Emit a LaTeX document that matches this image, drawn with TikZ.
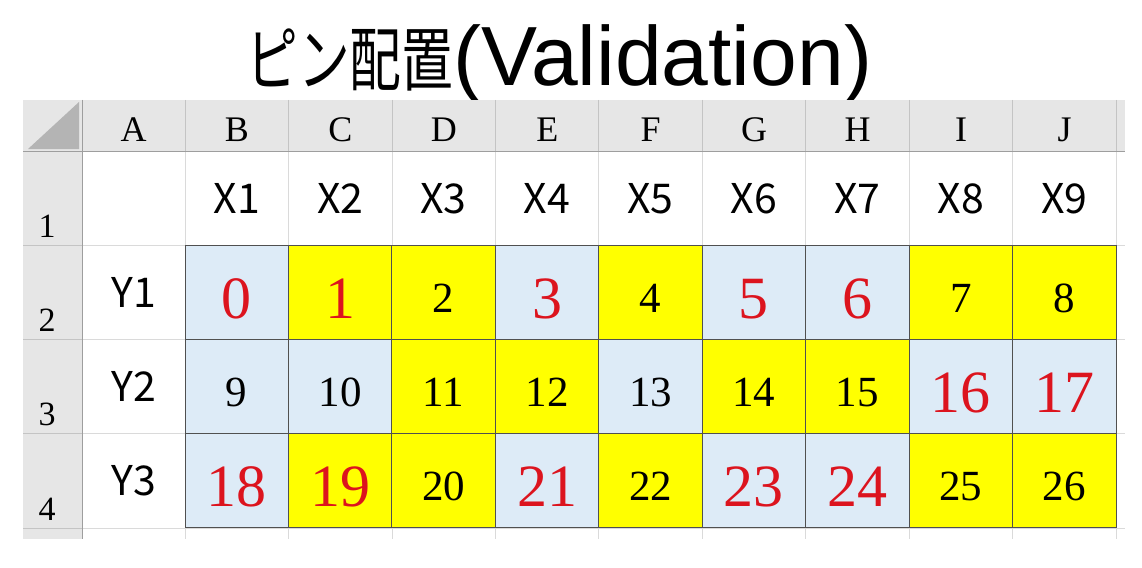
\documentclass[tikz,border=0pt]{standalone}
\usepackage{fontspec}
\usepackage{graphicx}
\setmainfont{Liberation Serif}
\newfontfamily\jpfont{Noto Sans CJK JP}
\newfontfamily\arialfont{Liberation Sans}
\definecolor{yelc}{HTML}{FFFF00}
\definecolor{bluc}{HTML}{DDEBF7}
\definecolor{hdrc}{HTML}{E6E6E6}
\definecolor{tric}{HTML}{B4B4B4}
\definecolor{gridc}{HTML}{DADADA}
\definecolor{hsepc}{HTML}{C4C4C4}
\definecolor{hlinec}{HTML}{9E9E9E}
\definecolor{bordc}{HTML}{505050}
\definecolor{redc}{HTML}{DC141E}
\tikzset{
  letter/.style={anchor=base,font=\fontsize{36}{40}\selectfont,inner sep=0pt},
  rownum/.style={anchor=base,font=\fontsize{34}{40}\selectfont,inner sep=0pt},
  xylab/.style={anchor=base,font=\jpfont\fontsize{41}{46}\selectfont,inner sep=0pt},
  blacknum/.style={anchor=base,font=\fontsize{43}{48}\selectfont,inner sep=0pt},
  rednum/.style={anchor=base,font=\fontsize{60}{66}\selectfont,text=redc,inner sep=0pt},
  gridline/.style={draw=gridc,line width=0.8pt},
  hsep/.style={draw=hsepc,line width=0.8pt},
  hline/.style={draw=hlinec,line width=1pt},
  cellbox/.style={draw=bordc,line width=1pt}
}
\begin{document}
\begin{tikzpicture}[x=1pt,y=-1pt]
\useasboundingbox (0,0) rectangle (1142,567);
\fill[white] (0,0) rectangle (1142,567);
% title
\node[anchor=base west,inner sep=0pt] (title) at (246,86)
  {{\jpfont\fontsize{70}{72}\selectfont\scalebox{0.74}[1]{ピン配置}}{\arialfont\fontsize{84}{88}\selectfont(Validation)}};
% header fills
\fill[hdrc] (23,100) rectangle (1125,151);
\fill[hdrc] (23,151) rectangle (82,539);
\fill[tric] (28,149) -- (79,149) -- (79,102) -- cycle;
% light grid in white area
\foreach \yy in {245,339.25,433.5,528} {
  \draw[gridline] (82,\yy) -- (1125,\yy);
  \draw[hsep] (23,\yy) -- (82,\yy);
}
\foreach \i in {0,...,9} {
  \pgfmathsetmacro{\xx}{185+103.45*\i}
  \draw[gridline] (\xx,151) -- (\xx,539);
  \draw[hsep] (\xx,100) -- (\xx,151);
}
\draw[hline] (23,151) -- (1125,151);
\draw[hline] (82,100) -- (82,539);
% column letters
\foreach \L [count=\k from 0] in {A,B,C,D,E,F,G,H,I,J} {
  \pgfmathsetmacro{\xx}{133.5+103.45*\k}
  \node[letter] (col\L) at (\xx,142) {\L};
}
% row numbers
\node[rownum] (row1) at (47,237) {1};
\node[rownum] (row2) at (47,331) {2};
\node[rownum] (row3) at (47,425) {3};
\node[rownum] (row4) at (47,520) {4};
% X labels
\foreach \k in {1,...,9} {
  \pgfmathsetmacro{\xx}{236.7+103.45*(\k-1)}
  \node[xylab] (x\k) at (\xx,213) {X\k};
}
% Y labels
\node[xylab] (y1) at (133.5,307) {Y1};
\node[xylab] (y2) at (133.5,401) {Y2};
\node[xylab] (y3) at (133.5,495) {Y3};
% cells
\foreach \r in {0,1,2} {
  \foreach \c in {0,...,8} {
    \pgfmathtruncatemacro{\n}{9*\r+\c}
    \pgfmathtruncatemacro{\isy}{{0,1,1,0,1,0,0,1,1,0,0,1,1,0,1,1,0,0,0,1,1,0,1,0,0,1,1}[\n]}
    \pgfmathtruncatemacro{\isr}{{1,1,0,1,0,1,1,0,0,0,0,0,0,0,0,0,1,1,1,1,0,1,0,1,1,0,0}[\n]}
    \pgfmathsetmacro{\xa}{185+103.45*\c}
    \pgfmathsetmacro{\xb}{185+103.45*(\c+1)}
    \pgfmathsetmacro{\ya}{245+94.33*\r}
    \pgfmathsetmacro{\yb}{245+94.33*(\r+1)}
    \pgfmathsetmacro{\xm}{(\xa+\xb)/2}
    \ifnum\isy=1 \def\fillc{yelc}\else\def\fillc{bluc}\fi
    \path[cellbox,fill=\fillc] (\xa,\ya) rectangle (\xb,\yb);
    \ifnum\isr=1
      \pgfmathsetmacro{\yt}{\yb-21}
      \node[rednum] (n\n) at (\xm,\yt) {\n};
    \else
      \pgfmathsetmacro{\yt}{\yb-27}
      \node[blacknum] (n\n) at (\xm,\yt) {\n};
    \fi
  }
}
\end{tikzpicture}
\end{document}
